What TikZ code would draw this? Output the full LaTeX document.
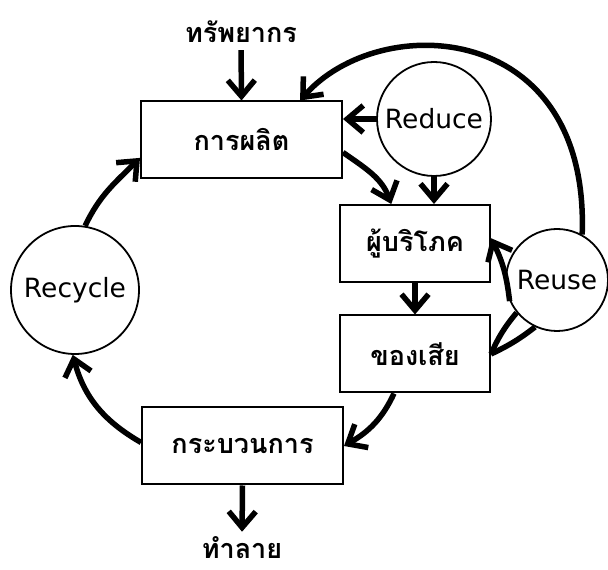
\documentclass[tikz,border=0pt]{standalone}
\usepackage{fontspec}
\setmainfont{DejaVu Sans}
\newfontfamily\thaifont[Script=Thai]{Loma}
\usetikzlibrary{arrows.meta}

\tikzset{
    box/.style={draw, line width=2pt, minimum height=77pt, inner sep=0pt,
        font=\thaifont\bfseries\fontsize{27}{31}\selectfont},
    ring/.style={circle, draw, line width=1.8pt, inner sep=0pt,
        font=\fontsize{26.5}{30}\selectfont},
    word/.style={inner sep=1pt, font=\thaifont\bfseries\fontsize{27}{31}\selectfont},
    flow/.style={line width=5.5pt, -{Straight Barb[length=16pt,width=27pt]}},
    link/.style={line width=5.5pt}
}

\begin{document}
\begin{tikzpicture}[x=1pt,y=1pt]
        \useasboundingbox (0,0) rectangle (608,570);
        \node[box, minimum width=201pt] (prod) at (241.5,430) {การผลิต};
        \node[box, minimum width=150pt] (cons) at (415,326.5) {ผู้บริโภค};
        \node[box, minimum width=150pt] (waste) at (415,216) {ของเสีย};
        \node[box, minimum width=201pt] (proc) at (242.5,124) {กระบวนการ};
        \node[ring, minimum size=114pt] (reduce) at (434,451) {Reduce};
        \node[ring, minimum size=102pt] (reuse) at (557,290) {Reuse};
        \node[ring, minimum size=128pt] (recycle) at (75,280) {Recycle};
        \node[word] (res) at (241,538) {ทรัพยากร};
        \node[word] (dest) at (242,22) {ทำลาย};
        % main loop
        \draw[flow, shorten <=6pt] (res.south) -- (prod.north);
        \draw[flow] (prod.-7) to[out=-35, in=110] (cons.121);
        \draw[flow] (cons.south) -- (waste.north);
        \draw[flow] (waste.242) to[out=-115, in=30] (proc.east);
        \draw[flow] (proc.178) to[out=150, in=-75] (recycle.268);
        \draw[flow] (recycle.81) to[out=65, in=225] (prod.190);
        \draw[flow, shorten >=4pt] (proc.south) -- (dest.north);
        % the three R
        \draw[flow] (reduce.west) -- (reduce.west -| prod.east);
        \draw[flow] (reduce.south) -- (reduce.south |- cons.north);
        \draw[flow] (reuse.61) .. controls (590,550) and (380,560) .. (prod.34);
        \draw[flow] (reuse.204) to[bend right=10] (cons.4);
        \draw[link] (waste.east) to[bend left=8] (reuse.219);
        \draw[link] (waste.east) to[bend right=6] (reuse.245);
\end{tikzpicture}
\end{document}
